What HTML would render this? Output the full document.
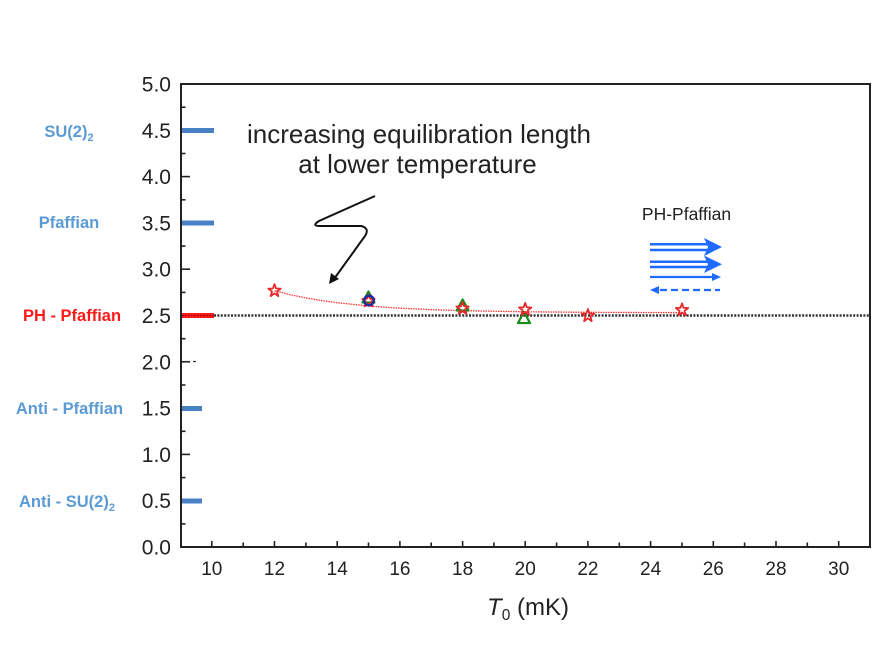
<!DOCTYPE html>
<html><head><meta charset="utf-8">
<style>
html,body{margin:0;padding:0;background:#fff;}
svg{display:block;}
text{font-family:"Liberation Sans",Arial,sans-serif;}
</style></head>
<body>
<svg width="885" height="650" viewBox="0 0 885 650" xmlns="http://www.w3.org/2000/svg">
<rect width="885" height="650" fill="#fff"/>

<!-- left category labels -->
<g font-weight="bold" font-size="16.5" text-anchor="middle" fill="#5b9bd5">
  <text x="69" y="137">SU(2)<tspan font-size="11" dy="4">2</tspan></text>
  <text x="69" y="228">Pfaffian</text>
  <text x="72" y="321" fill="#ff1a1a">PH - Pfaffian</text>
  <text x="69.5" y="414">Anti - Pfaffian</text>
  <text x="67" y="507">Anti - SU(2)<tspan font-size="11" dy="4">2</tspan></text>
</g>

<!-- y tick labels -->
<g font-size="21" text-anchor="end" fill="#222">
  <text x="171" y="91.5">5.0</text>
  <text x="171" y="137.8">4.5</text>
  <text x="171" y="184.1">4.0</text>
  <text x="171" y="230.4">3.5</text>
  <text x="171" y="276.7">3.0</text>
  <text x="171" y="323">2.5</text>
  <text x="171" y="369.3">2.0</text>
  <text x="171" y="415.6">1.5</text>
  <text x="171" y="461.9">1.0</text>
  <text x="171" y="508.2">0.5</text>
  <text x="171" y="554.5">0.0</text>
</g>

<!-- y ticks -->
<g stroke="#222" stroke-width="1.6">
  <line x1="181" y1="130.3" x2="190" y2="130.3"/>
  <line x1="181" y1="176.6" x2="190" y2="176.6"/>
  <line x1="181" y1="222.9" x2="190" y2="222.9"/>
  <line x1="181" y1="269.2" x2="190" y2="269.2"/>
  <line x1="181" y1="315.5" x2="190" y2="315.5"/>
  <line x1="181" y1="361.8" x2="190" y2="361.8"/>
  <line x1="181" y1="408.1" x2="190" y2="408.1"/>
  <line x1="181" y1="454.4" x2="190" y2="454.4"/>
  <line x1="181" y1="500.7" x2="190" y2="500.7"/>
  <line x1="181" y1="107.2" x2="185.5" y2="107.2"/>
  <line x1="181" y1="153.5" x2="185.5" y2="153.5"/>
  <line x1="181" y1="199.8" x2="185.5" y2="199.8"/>
  <line x1="181" y1="246.1" x2="185.5" y2="246.1"/>
  <line x1="181" y1="292.4" x2="185.5" y2="292.4"/>
  <line x1="181" y1="338.7" x2="185.5" y2="338.7"/>
  <line x1="181" y1="385" x2="185.5" y2="385"/>
  <line x1="181" y1="431.3" x2="185.5" y2="431.3"/>
  <line x1="181" y1="477.6" x2="185.5" y2="477.6"/>
  <line x1="181" y1="523.9" x2="185.5" y2="523.9"/>
</g>

<!-- bars (over ticks) -->
<g fill="#4a80c4">
  <rect x="181" y="128" width="33" height="5"/>
  <rect x="181" y="220.5" width="33" height="5"/>
  <rect x="181" y="406" width="21" height="5"/>
  <rect x="181" y="498.5" width="21" height="5"/>
</g>
<rect x="181" y="313" width="33" height="5" fill="#ff1a1a"/>
<line x1="182" y1="315.5" x2="214" y2="315.5" stroke="#990000" stroke-width="1.5" stroke-dasharray="1.5 1.5"/>
<line x1="185" y1="361.5" x2="197" y2="361.5" stroke="#333" stroke-width="1.3" stroke-dasharray="3 5"/>

<!-- x ticks -->
<g stroke="#222" stroke-width="1.6">
  <line x1="211.8" y1="547" x2="211.8" y2="541"/>
  <line x1="243.2" y1="547" x2="243.2" y2="542.5"/>
  <line x1="274.5" y1="547" x2="274.5" y2="541"/>
  <line x1="305.9" y1="547" x2="305.9" y2="542.5"/>
  <line x1="337.2" y1="547" x2="337.2" y2="541"/>
  <line x1="368.5" y1="547" x2="368.5" y2="542.5"/>
  <line x1="399.9" y1="547" x2="399.9" y2="541"/>
  <line x1="431.2" y1="547" x2="431.2" y2="542.5"/>
  <line x1="462.6" y1="547" x2="462.6" y2="541"/>
  <line x1="493.9" y1="547" x2="493.9" y2="542.5"/>
  <line x1="525.2" y1="547" x2="525.2" y2="541"/>
  <line x1="556.6" y1="547" x2="556.6" y2="542.5"/>
  <line x1="587.9" y1="547" x2="587.9" y2="541"/>
  <line x1="619.3" y1="547" x2="619.3" y2="542.5"/>
  <line x1="650.6" y1="547" x2="650.6" y2="541"/>
  <line x1="682" y1="547" x2="682" y2="542.5"/>
  <line x1="713.3" y1="547" x2="713.3" y2="541"/>
  <line x1="744.6" y1="547" x2="744.6" y2="542.5"/>
  <line x1="776" y1="547" x2="776" y2="541"/>
  <line x1="807.3" y1="547" x2="807.3" y2="542.5"/>
  <line x1="838.7" y1="547" x2="838.7" y2="541"/>
</g>

<!-- x tick labels -->
<g font-size="19" text-anchor="middle" fill="#222">
  <text x="211.8" y="575">10</text>
  <text x="274.5" y="575">12</text>
  <text x="337.2" y="575">14</text>
  <text x="399.9" y="575">16</text>
  <text x="462.6" y="575">18</text>
  <text x="525.2" y="575">20</text>
  <text x="587.9" y="575">22</text>
  <text x="650.6" y="575">24</text>
  <text x="713.3" y="575">26</text>
  <text x="776" y="575">28</text>
  <text x="838.7" y="575">30</text>
</g>

<!-- x axis title -->
<text x="528" y="615" font-size="24" text-anchor="middle" fill="#222"><tspan font-style="italic">T</tspan><tspan font-size="15.5" dy="5">0</tspan><tspan dy="-5"> (mK)</tspan></text>

<!-- frame -->
<rect x="181" y="84" width="689" height="463" fill="none" stroke="#222" stroke-width="2"/>

<!-- dotted reference line -->
<line x1="214" y1="315.5" x2="869" y2="315.5" stroke="#333" stroke-width="2.5" stroke-dasharray="2 1.4"/>

<!-- fit curve -->
<polyline fill="none" stroke="#ff3333" stroke-width="1.3" stroke-dasharray="1.5 1" points="274.5,290.7 290.2,294.7 305.9,297.9 321.5,300.5 337.2,302.7 368.5,306 399.9,308.2 431.2,309.65 462.6,310.65 525.2,311.8 587.9,312.3 682,312.6"/>

<!-- markers -->
<defs>
  <path id="star" d="M0,-6.6 L1.6,-2.2 6.2,-2 2.5,0.8 3.8,5.4 0,2.6 -3.8,5.4 -2.5,0.8 -6.2,-2 -1.6,-2.2 Z" fill="none" stroke="#e8282b" stroke-width="1.8" stroke-linejoin="round"/>
  <path id="tri" d="M0,-6.5 L6,4.5 -6,4.5 Z" fill="none" stroke="#1a8c1a" stroke-width="2.2" stroke-linejoin="round"/>
</defs>
<use href="#tri" x="368.5" y="298"/>
<use href="#star" x="368.5" y="301"/>
<circle cx="369" cy="300.5" r="4.8" fill="none" stroke="#1c2aa0" stroke-width="2.4"/>
<use href="#tri" x="462.6" y="306"/>
<use href="#tri" x="524" y="318.5"/>
<use href="#star" x="274.5" y="290.7"/>
<use href="#star" x="462.6" y="308.5"/>
<use href="#star" x="525.2" y="309.5"/>
<use href="#star" x="587.9" y="315.7"/>
<use href="#star" x="682" y="310"/>

<!-- annotation -->
<g font-size="26" text-anchor="middle" fill="#222">
  <text x="419" y="143">increasing equilibration length</text>
  <text x="417.5" y="173">at lower temperature</text>
</g>
<path d="M375,196 L319,221 Q311,226 320,226 L361,226 Q370,228 365,236 L334,279" fill="none" stroke="#111" stroke-width="2"/>
<polygon points="329,284 331,273 339,279" fill="#111"/>

<!-- legend -->
<text x="686.5" y="220" font-size="17.5" text-anchor="middle" fill="#222">PH-Pfaffian</text>
<g stroke="#1f6bff" stroke-width="2.5" fill="none">
  <line x1="650" y1="244.3" x2="710" y2="244.3"/>
  <line x1="650" y1="250" x2="710" y2="250"/>
  <line x1="650" y1="261.7" x2="710" y2="261.7"/>
  <line x1="650" y1="267" x2="710" y2="267"/>
  <line x1="650" y1="277" x2="714" y2="277" stroke-width="2.2"/>
  <line x1="660" y1="290" x2="720" y2="290" stroke-width="2.2" stroke-dasharray="7 4"/>
</g>
<g fill="#1f6bff">
  <polygon points="704,238 722,247 704,256 708,247"/>
  <polygon points="704,255.5 722,264.3 704,273 708,264.3"/>
  <polygon points="712,273 721,277 712,281"/>
  <polygon points="650,290 659,286 659,294"/>
</g>
</svg>
</body></html>
